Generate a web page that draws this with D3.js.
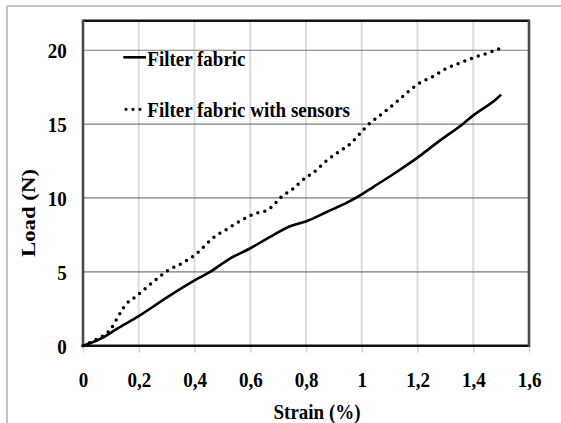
<!DOCTYPE html>
<html>
<head>
<meta charset="utf-8">
<script src="https://cdn.jsdelivr.net/npm/d3@7"></script>
<style>
  html, body { margin: 0; padding: 0; background: #fff; }
  svg { display: block; }
  text { font-family: "Liberation Serif", "Times New Roman", serif; font-weight: bold; fill: #000; }
</style>
</head>
<body>
<svg id="chart" width="561" height="423"></svg>
<script>
// ---- data ----
const seriesNames = ["Filter fabric", "Filter fabric with sensors"];
const strainA = [0, 0.025, 0.073, 0.12, 0.2, 0.3, 0.408, 0.456, 0.527, 0.599, 0.671, 0.743, 0.802, 0.874, 0.952, 1.0, 1.041, 1.125, 1.2, 1.281, 1.364, 1.4, 1.484, 1.5];
const loadA   = [0, 0.16, 0.57, 1.12, 2.0, 3.25, 4.5, 5.0, 5.9, 6.58, 7.37, 8.09, 8.43, 9.05, 9.73, 10.25, 10.74, 11.76, 12.73, 13.9, 15.03, 15.59, 16.72, 17.0];
const strainB = [0, 0.043, 0.076, 0.097, 0.112, 0.129, 0.145, 0.166, 0.189, 0.21, 0.252, 0.306, 0.354, 0.408, 0.444, 0.467, 0.516, 0.563, 0.611, 0.665, 0.689, 0.707, 0.754, 0.802, 0.826, 0.868, 0.916, 0.952, 0.982, 1.006, 1.03, 1.065, 1.095, 1.131, 1.164, 1.207, 1.251, 1.305, 1.359, 1.412, 1.46, 1.5];
const loadB   = [0, 0.38, 0.72, 1.06, 1.51, 2.07, 2.57, 3.02, 3.31, 3.65, 4.32, 5.11, 5.57, 6.24, 6.9, 7.3, 7.88, 8.43, 8.9, 9.22, 9.62, 10.0, 10.63, 11.42, 11.71, 12.43, 13.11, 13.56, 14.12, 14.62, 15.07, 15.59, 16.04, 16.6, 17.15, 17.77, 18.18, 18.78, 19.19, 19.57, 19.86, 20.15];
const xTicks = [0, 0.2, 0.4, 0.6, 0.8, 1, 1.2, 1.4, 1.6];
const xTickLabels = ["0", "0,2", "0,4", "0,6", "0,8", "1", "1,2", "1,4", "1,6"];
const yTicks = [0, 5, 10, 15, 20];
const xTitle = "Strain (%)";
const yTitle = "Load (N)";

// ---- layout ----
const svg = d3.select("#chart");
const L = 83, R = 529, T = 20.7, B = 345.7;
const SY = 1.12; // vertical stretch of text in the reference

const x = d3.scaleLinear().domain([0, 1.6]).range([L, R]);
const y = d3.scaleLinear().domain([0, 22]).range([B, T]);

// outer frame
svg.append("line").attr("x1", 7).attr("x2", 561).attr("y1", 6).attr("y2", 6)
  .attr("stroke", "#c4c4c4").attr("stroke-width", 2);
svg.append("line").attr("x1", 7).attr("x2", 7).attr("y1", 6).attr("y2", 423)
  .attr("stroke", "#c4c4c4").attr("stroke-width", 2);

// vertical gridlines (light)
svg.append("g").selectAll("line").data(xTicks.slice(1, -1)).join("line")
  .attr("x1", d => x(d)).attr("x2", d => x(d))
  .attr("y1", T).attr("y2", B)
  .attr("stroke", "#dcdcdc").attr("stroke-width", 2);

// horizontal gridlines (dark)
svg.append("g").selectAll("line").data(yTicks.slice(1)).join("line")
  .attr("x1", L).attr("x2", R)
  .attr("y1", d => y(d)).attr("y2", d => y(d))
  .attr("stroke", "#7a7a7a").attr("stroke-width", 1.2);

// axes
const xAxis = svg.append("g").attr("transform", `translate(0,${B})`)
  .call(d3.axisBottom(x).tickValues(xTicks).tickFormat((d, i) => xTickLabels[i]).tickSize(7).tickPadding(0));
xAxis.select(".domain").remove();
xAxis.selectAll(".tick line").attr("stroke", "#d6d6d6").attr("stroke-width", 1.5);
xAxis.selectAll(".tick text")
  .attr("font-family", "Liberation Serif").attr("font-weight", "bold")
  .attr("font-size", 19).attr("fill", "#000")
  .attr("dy", 0).attr("y", 41.3 / SY)
  .attr("transform", `scale(1,${SY})`);

const yAxis = svg.append("g").attr("transform", `translate(${L},0)`)
  .call(d3.axisLeft(y).tickValues(yTicks).tickSize(0).tickPadding(0));
yAxis.select(".domain").remove();
yAxis.selectAll(".tick text")
  .attr("font-family", "Liberation Serif").attr("font-weight", "bold")
  .attr("font-size", 19).attr("fill", "#000")
  .attr("dy", 0).attr("x", -16.3).attr("y", 7.6 / SY)
  .attr("transform", `scale(1,${SY})`);

// plot border
svg.append("line").attr("x1", L).attr("x2", R).attr("y1", T).attr("y2", T).attr("stroke", "#111").attr("stroke-width", 2.6);
svg.append("line").attr("x1", L).attr("x2", R).attr("y1", B).attr("y2", B).attr("stroke", "#111").attr("stroke-width", 2.6);
svg.append("line").attr("x1", L).attr("x2", L).attr("y1", T - 1.3).attr("y2", B + 1.3).attr("stroke", "#4a4a4a").attr("stroke-width", 2.6);
svg.append("line").attr("x1", R).attr("x2", R).attr("y1", T - 1.3).attr("y2", B + 1.3).attr("stroke", "#4a4a4a").attr("stroke-width", 2.6);

// series
const line = d3.line().curve(d3.curveMonotoneX).x(d => x(d[0])).y(d => y(d[1]));
const dataA = strainA.map((s, i) => [s, loadA[i]]);
const dataB = strainB.map((s, i) => [s, loadB[i]]);

svg.append("path").datum(dataB).attr("d", line)
  .attr("fill", "none").attr("stroke", "#000").attr("stroke-width", 3.5)
  .attr("stroke-linecap", "round").attr("stroke-dasharray", "0 7.2");
svg.append("path").datum(dataA).attr("d", line)
  .attr("fill", "none").attr("stroke", "#000").attr("stroke-width", 2.6)
  .attr("stroke-linejoin", "round");

// legend
const leg = svg.append("g");
leg.append("line").attr("x1", 123.3).attr("x2", 146).attr("y1", 57.3).attr("y2", 57.3)
  .attr("stroke", "#000").attr("stroke-width", 2.6);
leg.append("line").attr("x1", 126).attr("x2", 142).attr("y1", 109.3).attr("y2", 109.3)
  .attr("stroke", "#000").attr("stroke-width", 3.3).attr("stroke-linecap", "round").attr("stroke-dasharray", "0 7");
leg.append("text").attr("transform", `translate(147.3,66) scale(1,${SY})`)
  .attr("font-size", 19).text(seriesNames[0]);
leg.append("text").attr("transform", `translate(147.3,116.7) scale(1,${SY})`)
  .attr("font-size", 19).text(seriesNames[1]);

// axis titles
svg.append("text").attr("transform", `translate(317,419) scale(1,${SY})`)
  .attr("text-anchor", "middle").attr("font-size", 19).text(xTitle);
svg.append("text").attr("transform", `translate(35,213) rotate(-90) scale(1.2,1)`)
  .attr("text-anchor", "middle").attr("font-size", 19).text(yTitle);
</script>
</body>
</html>
